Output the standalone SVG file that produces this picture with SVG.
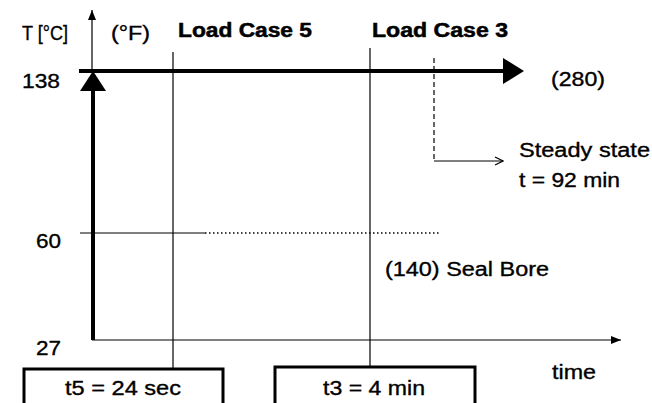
<svg xmlns="http://www.w3.org/2000/svg" width="652" height="403" viewBox="0 0 652 403">
<style>
text{font-family:"Liberation Sans",Arial,sans-serif;font-size:20px;fill:#000;stroke:#000;stroke-width:0.35}
.b{font-weight:bold;stroke-width:0.5}
.thin{stroke:#000;stroke-width:1.2;fill:none}
</style>
<defs>
<marker id="small" markerWidth="10" markerHeight="8" refX="10" refY="4" orient="auto" markerUnits="userSpaceOnUse"><path d="M0,0 L10,4 L0,8 Z" fill="#000"/></marker>
<marker id="open" markerWidth="10" markerHeight="10" refX="9" refY="5" orient="auto" markerUnits="userSpaceOnUse"><path d="M1,1 L9,5 L1,9" fill="none" stroke="#000" stroke-width="1.2"/></marker>
</defs>
<rect width="652" height="403" fill="#fff"/>
<g id="connectors">
<line class="thin" x1="92" y1="70" x2="92" y2="10" marker-end="url(#small)"/>
<line x1="79" y1="71" x2="505" y2="71" stroke="#000" stroke-width="4"/>
<path d="M503,58 L524,71 L503,84 Z" fill="#000"/>
<line x1="93" y1="340" x2="93" y2="88" stroke="#000" stroke-width="4"/>
<path d="M80,91 L93,71 L106,91 Z" fill="#000"/>
<line class="thin" x1="92" y1="340" x2="621" y2="340" marker-end="url(#small)"/>
<line class="thin" x1="173" y1="52" x2="173" y2="368"/>
<line class="thin" x1="370" y1="48" x2="370" y2="366"/>
<line class="thin" x1="434" y1="58" x2="434" y2="161" stroke-dasharray="5,3"/>
<line class="thin" x1="434" y1="161" x2="503" y2="161" marker-end="url(#open)"/>
<line class="thin" x1="80" y1="233" x2="205" y2="233"/>
<line x1="205" y1="233" x2="440" y2="233" stroke="#000" stroke-width="1.5" stroke-dasharray="1.5,2.5"/>
</g>
<g id="axis-labels">
<text x="22" y="40" textLength="46" lengthAdjust="spacingAndGlyphs">T [°C]</text>
<text x="111" y="40" textLength="39" lengthAdjust="spacingAndGlyphs">(°F)</text>
<text x="22" y="88" textLength="38" lengthAdjust="spacingAndGlyphs">138</text>
<text x="36" y="248" textLength="25" lengthAdjust="spacingAndGlyphs">60</text>
<text x="36" y="355" textLength="25" lengthAdjust="spacingAndGlyphs">27</text>
<text x="551" y="86" textLength="54" lengthAdjust="spacingAndGlyphs">(280)</text>
<text x="552" y="379" textLength="44" lengthAdjust="spacingAndGlyphs">time</text>
<text x="385" y="276" textLength="164" lengthAdjust="spacingAndGlyphs">(140) Seal Bore</text>
</g>
<g id="load-case-5">
<text class="b" x="178" y="37" textLength="134" lengthAdjust="spacingAndGlyphs">Load Case 5</text>
</g>
<g id="load-case-3">
<text class="b" x="372" y="37" textLength="136" lengthAdjust="spacingAndGlyphs">Load Case 3</text>
</g>
<g id="steady-state">
<text x="519" y="157" textLength="131" lengthAdjust="spacingAndGlyphs">Steady state</text>
<text x="519" y="187" textLength="101" lengthAdjust="spacingAndGlyphs">t = 92 min</text>
</g>
<g id="box-t5">
<rect x="24" y="369" width="199" height="40" fill="#fff" stroke="#000" stroke-width="3"/>
<text x="65" y="395" textLength="116" lengthAdjust="spacingAndGlyphs">t5 = 24 sec</text>
</g>
<g id="box-t3">
<rect x="275" y="367" width="200" height="42" fill="#fff" stroke="#000" stroke-width="3"/>
<text x="323" y="395" textLength="102" lengthAdjust="spacingAndGlyphs">t3 = 4 min</text>
</g>
</svg>
